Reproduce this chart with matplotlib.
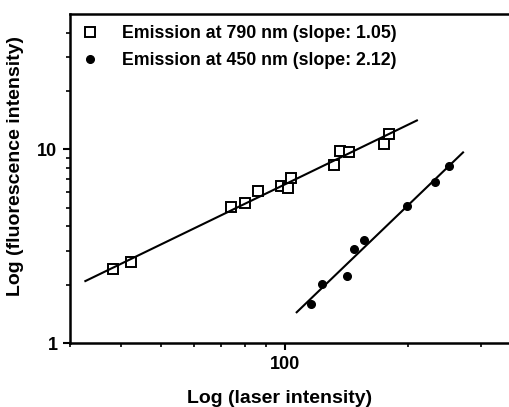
import numpy as np
import matplotlib
matplotlib.use("Agg")
import matplotlib.pyplot as plt
from matplotlib.ticker import FixedLocator, NullFormatter, FixedFormatter

plt.rcParams['font.family'] = ['Liberation Sans', 'DejaVu Sans']
plt.rcParams['font.weight'] = 'bold'

# emission at 790 nm (open squares)
x790 = [38.2, 42.3, 74.0, 80.0, 86.1, 97.8, 102.1, 103.8, 131.7, 136.3, 143.8, 174.6, 179.2]
y790 = [2.40, 2.61, 5.05, 5.26, 6.11, 6.48, 6.29, 7.11, 8.33, 9.80, 9.72, 10.69, 12.0]

# emission at 450 nm (filled circles)
x450 = [116.1, 123.2, 142.0, 147.8, 155.8, 199.2, 232.8, 251.0]
y450 = [1.60, 2.03, 2.23, 3.05, 3.41, 5.11, 6.75, 8.23]

# x-range of fitted lines
fit790_range = [32.7, 210]
fit450_range = [107, 272]

labels = ["Emission at 790 nm (slope: 1.05)", "Emission at 450 nm (slope: 2.12)"]

fig = plt.figure(figsize=(5.09, 4.07), dpi=100)
ax = fig.add_axes([0.1375, 0.157, 0.8625, 0.8086])

def fitline(x, y, xr):
    p = np.polyfit(np.log10(x), np.log10(y), 1)
    xx = np.array(xr)
    return xx, 10 ** np.polyval(p, np.log10(xx))

ax.plot(x790, y790, 's', ms=7, mfc='white', mec='black', mew=1.4, label=labels[0])
ax.plot(x450, y450, 'o', ms=5.5, color='black', label=labels[1])
xx, yy = fitline(x790, y790, fit790_range)
ax.plot(xx, yy, '-', color='black', lw=1.5)
xx, yy = fitline(x450, y450, fit450_range)
ax.plot(xx, yy, '-', color='black', lw=1.5)

ax.set_xscale('log')
ax.set_yscale('log')
ax.set_xlim(30, 352)
ax.set_ylim(1, 50)

ax.xaxis.set_major_locator(FixedLocator([100]))
ax.xaxis.set_major_formatter(FixedFormatter(['100']))
ax.xaxis.set_minor_locator(FixedLocator([30, 40, 50, 60, 70, 80, 90, 200, 300]))
ax.xaxis.set_minor_formatter(NullFormatter())
ax.yaxis.set_major_locator(FixedLocator([1, 10]))
ax.yaxis.set_major_formatter(FixedFormatter(['1', '10']))
ax.yaxis.set_minor_locator(FixedLocator([2, 3, 4, 5, 6, 7, 8, 9, 20, 30, 40]))
ax.yaxis.set_minor_formatter(NullFormatter())

ax.tick_params(which='major', direction='out', length=5, width=1.5, labelsize=13, pad=4)
ax.tick_params(which='minor', direction='out', length=3, width=1.2)
ax.spines['right'].set_visible(False)
for s in ['left', 'top', 'bottom']:
    ax.spines[s].set_linewidth(1.8)

ax.set_xlabel("Log (laser intensity)", fontsize=14, fontweight='bold')
ax.set_ylabel("Log (fluorescence intensity)", fontsize=14, fontweight='bold')
ax.xaxis.set_label_coords(0.478, -0.143)
ax.yaxis.set_label_coords(-0.105, 0.538)

ax.legend(loc='upper left', frameon=False, handlelength=1.0, handletextpad=1.3,
          borderaxespad=0.17, borderpad=0.45, labelspacing=0.58,
          prop={'weight': 'bold', 'size': 12.8})

fig.savefig("out.png", dpi=100)
